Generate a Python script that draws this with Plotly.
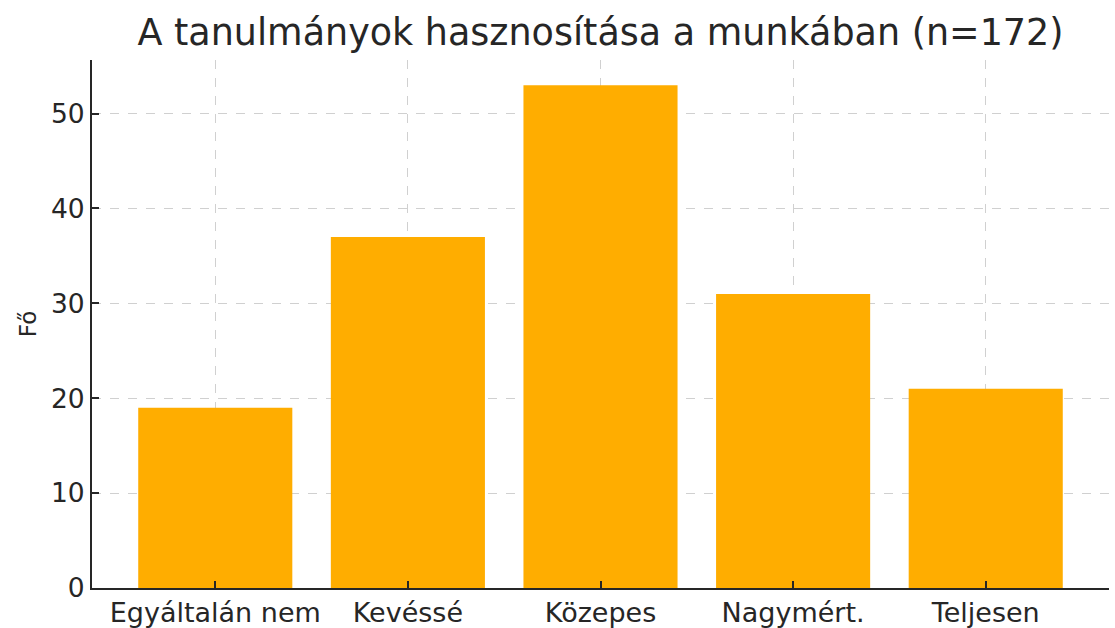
import plotly.graph_objects as go

categories = ["Egyáltalán nem", "Kevéssé", "Közepes", "Nagymért.", "Teljesen"]
values = [19, 37, 53, 31, 21]
y_ticks = [0, 10, 20, 30, 40, 50]
title_text = "A tanulmányok hasznosítása a munkában (n=172)"
y_title = "Fő"

FONT = "DejaVu Sans"
TXT = "#262626"

fig = go.Figure(
    go.Bar(
        x=list(range(len(categories))),
        y=values,
        width=0.8,
        marker=dict(color="#FFAD00", line=dict(width=0)),
        hoverinfo="skip",
    )
)

fig.update_layout(
    width=1115,
    height=628,
    paper_bgcolor="white",
    plot_bgcolor="white",
    margin=dict(l=92, r=6, t=60, b=40, pad=0),
    showlegend=False,
    font=dict(family=FONT, color=TXT),
    title=dict(
        text=title_text,
        x=0.5,
        xanchor="center",
        xref="paper",
        y=1 - 32 / 628,
        yanchor="middle",
        yref="container",
        font=dict(family=FONT, size=36.5, color=TXT),
    ),
)

fig.update_xaxes(
    range=[-0.64, 4.64],
    tickmode="array",
    tickvals=list(range(len(categories))),
    ticktext=categories,
    tickfont=dict(family=FONT, size=27, color=TXT),
    showline=True,
    linecolor=TXT,
    linewidth=2,
    ticks="inside",
    ticklen=7,
    tickwidth=2,
    tickcolor=TXT,
    showgrid=True,
    gridcolor="#d0d0d0",
    griddash="dash",
    gridwidth=1.2,
    zeroline=False,
    layer="above traces",
    automargin=False,
)

fig.update_yaxes(
    range=[0, 55.65],
    tickmode="array",
    tickvals=y_ticks,
    tickfont=dict(family=FONT, size=26.5, color=TXT),
    title=dict(text=y_title, font=dict(family=FONT, size=23, color=TXT), standoff=8),
    showline=True,
    linecolor=TXT,
    linewidth=2,
    ticks="inside",
    ticklen=7,
    tickwidth=2,
    tickcolor=TXT,
    showgrid=True,
    gridcolor="#d0d0d0",
    griddash="dash",
    gridwidth=1.2,
    zeroline=False,
    layer="above traces",
    automargin=False,
)

fig.write_html(
    "out.html",
    config={"displayModeBar": False},
    post_script="document.body.style.margin='0';document.body.style.overflow='hidden';",
)
